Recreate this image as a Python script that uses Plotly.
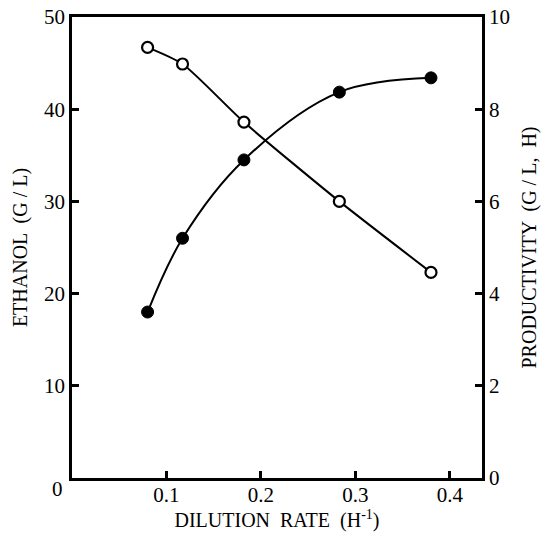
import plotly.graph_objects as go

dilution_rate = [0.080, 0.117, 0.182, 0.283, 0.380]
ethanol = [46.7, 44.9, 38.6, 30.0, 22.3]
productivity = [3.6, 5.2, 6.9, 8.37, 8.68]

x_ticks = [0.1, 0.2, 0.3, 0.4]
x_tick_labels = ["0.1", "0.2", "0.3", "0.4"]
left_ticks = [10, 20, 30, 40, 50]
right_ticks = [0, 2, 4, 6, 8, 10]

FONT = "Liberation Serif"

fig = go.Figure()
fig.add_trace(go.Scatter(
    x=dilution_rate, y=ethanol, mode="lines+markers",
    line=dict(color="black", width=2, shape="spline", smoothing=0.6),
    marker=dict(symbol="circle", size=11, color="white",
                line=dict(color="black", width=2.2)),
    yaxis="y", showlegend=False, cliponaxis=False))
fig.add_trace(go.Scatter(
    x=dilution_rate, y=productivity, mode="lines+markers",
    line=dict(color="black", width=2, shape="spline", smoothing=1.0),
    marker=dict(symbol="circle", size=12, color="black",
                line=dict(color="black", width=1)),
    yaxis="y2", showlegend=False, cliponaxis=False))

axis_common = dict(showgrid=False, zeroline=False, showline=True,
                   linecolor="black", linewidth=2.5, ticks="inside",
                   ticklen=7, tickwidth=2.5, tickcolor="black",
                   automargin=False, ticklabeloverflow="allow",
                   tickfont=dict(family=FONT, size=21, color="black"))

title_font = dict(family=FONT, size=20, color="black")

fig.update_layout(
    width=549, height=537,
    margin=dict(l=72, r=67, t=17, b=59),
    paper_bgcolor="white", plot_bgcolor="white",
    xaxis=dict(range=[0, 0.434], tickvals=x_ticks, ticktext=x_tick_labels,
               mirror=True, ticklabelstandoff=-4,
               title=dict(text="DILUTION  RATE  (H<sup>-1</sup>)",
                          font=title_font, standoff=4),
               **axis_common),
    yaxis=dict(range=[0, 50], tickvals=left_ticks,
               title=dict(text="ETHANOL  (G / L)",
                          font=title_font, standoff=12),
               **axis_common),
    yaxis2=dict(range=[0, 10], tickvals=right_ticks, overlaying="y",
                side="right",
                title=dict(text="PRODUCTIVITY  (G / L,  H)",
                           font=title_font, standoff=14),
                **axis_common),
    annotations=[dict(text="0", x=0, y=0, xref="x", yref="y",
                      xanchor="right", yanchor="top", xshift=-7, yshift=3,
                      showarrow=False,
                      font=dict(family=FONT, size=21, color="black"))],
)

fig.write_html("out.html", config={"displayModeBar": False},
               post_script="document.body.style.margin='0';"
                           "document.body.style.overflow='hidden';")
